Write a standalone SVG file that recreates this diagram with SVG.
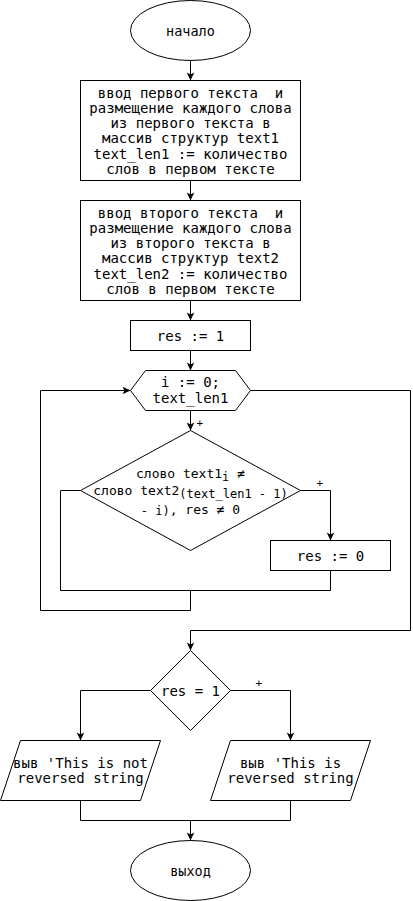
<svg xmlns="http://www.w3.org/2000/svg" width="413" height="901" viewBox="0 0 413 901">
<style>
.s{fill:#fff;stroke:#000;stroke-width:1}
.c{fill:none;stroke:#000;stroke-width:1}
text{white-space:pre}
.t{font-family:"DejaVu Sans Mono",monospace;font-size:14px;fill:#000;text-anchor:middle}
.e{font-family:"DejaVu Sans Mono",monospace;font-size:13.5px;fill:#000;text-anchor:middle}
.d{font-family:"DejaVu Sans Mono",monospace;font-size:13px;fill:#000;text-anchor:middle}
.p{font-family:"DejaVu Sans Mono",monospace;font-size:11px;fill:#000}
</style>
<defs>
<marker id="a" markerUnits="userSpaceOnUse" markerWidth="10" markerHeight="10" viewBox="0 0 10 10" refX="9" refY="5" orient="auto">
<path d="M1,1.2 L9,5 L1,8.8 L3,5 z" fill="#000"/>
</marker>
</defs>
<rect width="413" height="901" fill="#fff"/>
<g transform="translate(0.5,0.5)">
<g id="connectors">
<path class="c" d="M190,60 V80" marker-end="url(#a)"/>
<path class="c" d="M190,180 V200" marker-end="url(#a)"/>
<path class="c" d="M190,300 V320" marker-end="url(#a)"/>
<path class="c" d="M190,350 V370" marker-end="url(#a)"/>
<path class="c" d="M190,410 V430" marker-end="url(#a)"/>
<path class="c" d="M300,490 H330 V540" marker-end="url(#a)"/>
<path class="c" d="M80,490 H60 V590 H330 V570"/>
<path class="c" d="M190,590 V610 H40 V390 H130" marker-end="url(#a)"/>
<path class="c" d="M250,390 H410 V630 H190 V650" marker-end="url(#a)"/>
<path class="c" d="M150,690 H80 V740" marker-end="url(#a)"/>
<path class="c" d="M230,690 H290 V740" marker-end="url(#a)"/>
<path class="c" d="M80,800 V820 H290 V800"/>
<path class="c" d="M190,820 V840" marker-end="url(#a)"/>
<text class="p" x="196" y="426">+</text>
<text class="p" x="316" y="486">+</text>
<text class="p" x="255" y="686">+</text>
</g>
<g id="start">
<ellipse class="s" cx="190" cy="30" rx="60" ry="30"/>
<text class="e" x="190" y="35">начало</text>
</g>
<g id="input1">
<rect class="s" x="80" y="80" width="220" height="100"/>
<text class="t" x="190" y="97">ввод первого текста  и</text>
<text class="t" x="190" y="112.3">размещение каждого слова</text>
<text class="t" x="190" y="127.6">из первого текста в</text>
<text class="t" x="190" y="142.9">массив структур text1</text>
<text class="t" x="190" y="158.2">text_len1 := количество</text>
<text class="t" x="190" y="173.5">слов в первом тексте</text>
</g>
<g id="input2">
<rect class="s" x="80" y="200" width="220" height="100"/>
<text class="t" x="190" y="217">ввод второго текста  и</text>
<text class="t" x="190" y="232.3">размещение каждого слова</text>
<text class="t" x="190" y="247.6">из второго текста в</text>
<text class="t" x="190" y="262.9">массив структур text2</text>
<text class="t" x="190" y="278.2">text_len2 := количество</text>
<text class="t" x="190" y="293.5">слов в первом тексте</text>
</g>
<g id="res1">
<rect class="s" x="130" y="320" width="120" height="30"/>
<text class="t" x="190" y="340">res := 1</text>
</g>
<g id="loop">
<polygon class="s" points="145,370 235,370 250,390 235,410 145,410 130,390"/>
<text class="t" x="190" y="386">i := 0;</text>
<text class="t" x="190" y="402.5">text_len1</text>
</g>
<g id="cond1">
<polygon class="s" points="190,430 300,490 190,550 80,490"/>
<text class="d" x="190" y="477">слово text1<tspan font-size="12" dy="3">i</tspan><tspan dy="-3"> ≠</tspan></text>
<text class="d" x="190" y="494">слово text2<tspan font-size="12" dy="3">(text_len1 - 1)</tspan></text>
<text class="d" x="190" y="513"><tspan font-size="12" dy="1">- i)</tspan><tspan dy="-1">, res ≠ 0</tspan></text>
</g>
<g id="res0">
<rect class="s" x="270" y="540" width="120" height="30"/>
<text class="t" x="330" y="560">res := 0</text>
</g>
<g id="cond2">
<polygon class="s" points="190,650 230,690 190,730 150,690"/>
<text class="t" x="190" y="695">res = 1</text>
</g>
<g id="outNot">
<polygon class="s" points="20,740 160,740 140,800 0,800"/>
<text class="t" x="80" y="767">выв 'This is not</text>
<text class="t" x="80" y="782">reversed string</text>
</g>
<g id="outYes">
<polygon class="s" points="230,740 370,740 350,800 210,800"/>
<text class="t" x="290" y="767">выв 'This is</text>
<text class="t" x="290" y="782">reversed string</text>
</g>
<g id="end">
<ellipse class="s" cx="190" cy="870" rx="60" ry="30"/>
<text class="e" x="190" y="875">выход</text>
</g>
</g>
</svg>
